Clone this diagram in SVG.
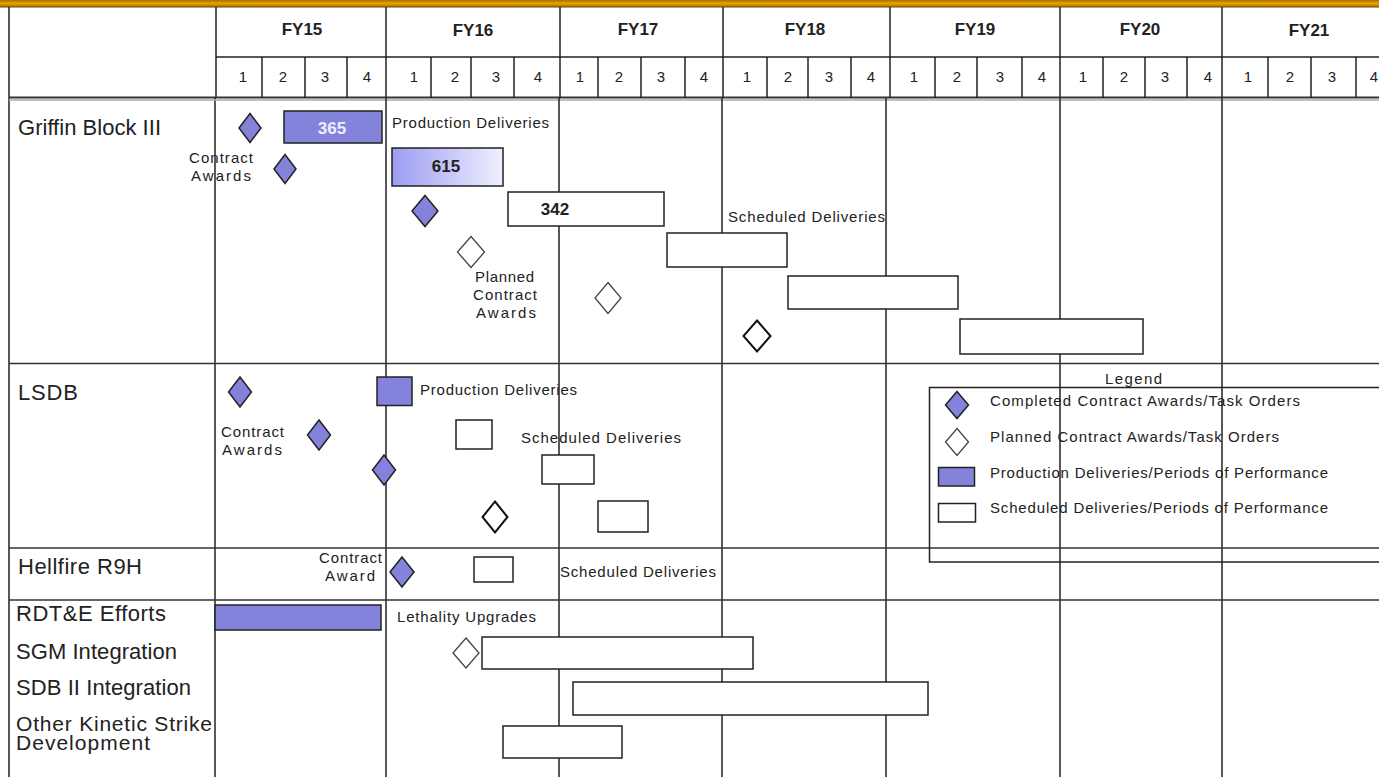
<svg xmlns="http://www.w3.org/2000/svg" width="1379" height="777" viewBox="0 0 1379 777">
<style>
text{font-family:"Liberation Sans",Arial,sans-serif;fill:#222}
.yr{font-size:17px;font-weight:bold;text-anchor:middle}
.q{font-size:15px;text-anchor:middle}
.lbl{font-size:22px}
.sm{font-size:15px}
.num{font-size:17px;font-weight:bold;text-anchor:middle}
.grid{stroke:#222;stroke-width:1.5;fill:none}
.hgrid{stroke:#333;stroke-width:1.6;fill:none}
.fill{fill:#8383dc;stroke:#222;stroke-width:1.5}
.open{fill:#fff;stroke:#222;stroke-width:1.5}
.openD{fill:#fff;stroke:#444;stroke-width:1.3}
.openDk{fill:#fff;stroke:#111;stroke-width:2}
</style>
<defs>
<linearGradient id="bar" x1="0" y1="0" x2="0" y2="1">
<stop offset="0" stop-color="#a87000"/>
<stop offset="0.45" stop-color="#eaa200"/>
<stop offset="0.75" stop-color="#c08400"/>
<stop offset="1" stop-color="#604000"/>
</linearGradient>
<linearGradient id="g615" x1="0" y1="0" x2="1" y2="0">
<stop offset="0" stop-color="#9c9cf2"/>
<stop offset="1" stop-color="#f0f0ff"/>
</linearGradient>
</defs>
<rect x="0" y="0" width="1379" height="777" fill="#fff"/>
<rect x="0" y="0" width="1379" height="7.5" fill="url(#bar)"/>

<g id="grid">
<line class="grid" x1="9" y1="7" x2="9" y2="777" stroke-width="2"/>
<line class="grid" x1="216" y1="7" x2="216" y2="98"/>
<line class="grid" x1="215" y1="98" x2="215" y2="777"/>
<line class="grid" x1="216" y1="57" x2="1379" y2="57"/>
<line x1="9" y1="97.5" x2="1379" y2="97.5" stroke="#333" stroke-width="2"/>
<line x1="9" y1="100" x2="1379" y2="100" stroke="#aaa" stroke-width="1.5"/>
<line class="grid" x1="386" y1="7" x2="386" y2="98"/>
<line class="grid" x1="560" y1="7" x2="560" y2="98"/>
<line class="grid" x1="723" y1="7" x2="723" y2="98"/>
<line class="grid" x1="890" y1="7" x2="890" y2="98"/>
<line class="grid" x1="1060" y1="7" x2="1060" y2="98"/>
<line class="grid" x1="1222" y1="7" x2="1222" y2="98"/>
<line class="grid" x1="386" y1="98" x2="386" y2="777"/>
<line class="grid" x1="559" y1="98" x2="559" y2="777"/>
<line class="grid" x1="722" y1="98" x2="722" y2="777"/>
<line class="grid" x1="886" y1="98" x2="886" y2="777"/>
<line class="grid" x1="1060" y1="98" x2="1060" y2="777"/>
<line class="grid" x1="1222" y1="98" x2="1222" y2="777"/>
<g class="grid" stroke-width="1.2">
<line x1="262" y1="57" x2="262" y2="98"/><line x1="305" y1="57" x2="305" y2="98"/><line x1="347" y1="57" x2="347" y2="98"/>
<line x1="431" y1="57" x2="431" y2="98"/><line x1="471" y1="57" x2="471" y2="98"/><line x1="514" y1="57" x2="514" y2="98"/>
<line x1="598" y1="57" x2="598" y2="98"/><line x1="641" y1="57" x2="641" y2="98"/><line x1="685" y1="57" x2="685" y2="98"/>
<line x1="767" y1="57" x2="767" y2="98"/><line x1="808" y1="57" x2="808" y2="98"/><line x1="851" y1="57" x2="851" y2="98"/>
<line x1="935" y1="57" x2="935" y2="98"/><line x1="977" y1="57" x2="977" y2="98"/><line x1="1022" y1="57" x2="1022" y2="98"/>
<line x1="1103" y1="57" x2="1103" y2="98"/><line x1="1145" y1="57" x2="1145" y2="98"/><line x1="1187" y1="57" x2="1187" y2="98"/>
<line x1="1268" y1="57" x2="1268" y2="98"/><line x1="1311" y1="57" x2="1311" y2="98"/><line x1="1356" y1="57" x2="1356" y2="98"/>
</g>
<line class="hgrid" x1="9" y1="363.5" x2="1379" y2="363.5"/>
<line class="hgrid" x1="9" y1="548" x2="1379" y2="548"/>
<line class="hgrid" x1="9" y1="600" x2="1379" y2="600"/>
</g>

<g id="header">
<text class="yr" x="302" y="35">FY15</text>
<text class="yr" x="473" y="36">FY16</text>
<text class="yr" x="638" y="35">FY17</text>
<text class="yr" x="805" y="35">FY18</text>
<text class="yr" x="975" y="35">FY19</text>
<text class="yr" x="1140" y="35">FY20</text>
<text class="yr" x="1309" y="36">FY21</text>
<text class="q" x="243" y="82">1</text><text class="q" x="283" y="82">2</text><text class="q" x="325" y="82">3</text><text class="q" x="367" y="82">4</text>
<text class="q" x="414" y="82">1</text><text class="q" x="455" y="82">2</text><text class="q" x="496" y="82">3</text><text class="q" x="538" y="82">4</text>
<text class="q" x="580" y="82">1</text><text class="q" x="619" y="82">2</text><text class="q" x="661" y="82">3</text><text class="q" x="704" y="82">4</text>
<text class="q" x="747" y="82">1</text><text class="q" x="788" y="82">2</text><text class="q" x="829" y="82">3</text><text class="q" x="871" y="82">4</text>
<text class="q" x="914" y="82">1</text><text class="q" x="957" y="82">2</text><text class="q" x="1000" y="82">3</text><text class="q" x="1042" y="82">4</text>
<text class="q" x="1083" y="82">1</text><text class="q" x="1124" y="82">2</text><text class="q" x="1165" y="82">3</text><text class="q" x="1208" y="82">4</text>
<text class="q" x="1248" y="82">1</text><text class="q" x="1290" y="82">2</text><text class="q" x="1332" y="82">3</text><text class="q" x="1374" y="82">4</text>
</g>

<g id="row-labels">
<text class="lbl" x="18" y="135" textLength="143" lengthAdjust="spacing">Griffin Block III</text>
<text class="lbl" x="18" y="400" textLength="60" lengthAdjust="spacing">LSDB</text>
<text class="lbl" x="18" y="574" textLength="124" lengthAdjust="spacing">Hellfire  R9H</text>
<text class="lbl" x="16" y="621" textLength="150" lengthAdjust="spacing">RDT&amp;E Efforts</text>
<text class="lbl" x="16" y="659" textLength="161" lengthAdjust="spacing">SGM Integration</text>
<text class="lbl" x="16" y="695" textLength="175" lengthAdjust="spacing">SDB II Integration</text>
<text class="lbl" x="16" y="731" textLength="196" lengthAdjust="spacing" style="font-size:21px">Other Kinetic  Strike</text>
<text class="lbl" x="16" y="750" textLength="134" lengthAdjust="spacing" style="font-size:21px">Development</text>
</g>

<g id="griffin">
<polygon class="fill" points="250,113.5 261,128 250,142.5 239,128"/>
<rect class="fill" x="284" y="111" width="98" height="32"/>
<text class="num" x="332" y="134" style="fill:#eeeeff">365</text>
<text class="sm" x="392" y="128" textLength="157" lengthAdjust="spacing">Production Deliveries</text>
<text class="sm" x="189" y="163" textLength="64" lengthAdjust="spacing">Contract</text>
<text class="sm" x="191" y="181" textLength="60" lengthAdjust="spacing">Awards</text>
<polygon class="fill" points="285,154.5 296,169 285,183.5 274,169"/>
<rect x="392" y="148" width="111" height="38" fill="url(#g615)" stroke="#222" stroke-width="1.5"/>
<text class="num" x="446" y="172">615</text>
<polygon class="fill" points="425,195.5 438,211 425,226.5 412,211"/>
<rect class="open" x="508" y="192" width="156" height="34"/>
<text class="num" x="555" y="215">342</text>
<polygon class="openD" points="471,236.5 484.5,252 471,267.5 457.5,252"/>
<text class="sm" x="475" y="282" textLength="59" lengthAdjust="spacing">Planned</text>
<text class="sm" x="473" y="300" textLength="64" lengthAdjust="spacing">Contract</text>
<text class="sm" x="476" y="318" textLength="60" lengthAdjust="spacing">Awards</text>
<rect class="open" x="667" y="233" width="120" height="34"/>
<text class="sm" x="728" y="222" textLength="157" lengthAdjust="spacing">Scheduled Deliveries</text>
<polygon class="openD" points="608,282.5 621,298 608,313.5 595,298"/>
<rect class="open" x="788" y="276" width="170" height="33"/>
<polygon class="openDk" points="757,320.5 770.5,336 757,351.5 743.5,336"/>
<rect class="open" x="960" y="319" width="183" height="35"/>
</g>

<g id="lsdb">
<polygon class="fill" points="240,377 251.5,392 240,407 228.5,392"/>
<rect class="fill" x="377" y="377" width="35" height="28.5"/>
<text class="sm" x="420" y="395" textLength="157" lengthAdjust="spacing">Production Deliveries</text>
<text class="sm" x="221" y="437" textLength="63" lengthAdjust="spacing">Contract</text>
<text class="sm" x="222" y="455" textLength="60" lengthAdjust="spacing">Awards</text>
<polygon class="fill" points="319,420 330.5,435 319,450 307.5,435"/>
<polygon class="fill" points="384,455 395.5,470 384,485 372.5,470"/>
<rect class="open" x="456" y="420" width="36" height="29"/>
<text class="sm" x="521" y="443" textLength="160" lengthAdjust="spacing">Scheduled  Deliveries</text>
<rect class="open" x="542" y="455" width="52" height="29"/>
<polygon class="openDk" points="495,501.5 507.5,517 495,532.5 482.5,517"/>
<rect class="open" x="598" y="501" width="50" height="31"/>
</g>

<g id="hellfire">
<text class="sm" x="319" y="563" textLength="63" lengthAdjust="spacing">Contract</text>
<text class="sm" x="325" y="581" textLength="50" lengthAdjust="spacing">Award</text>
<polygon class="fill" points="402,557 414,572 402,587 390,572" stroke-width="2"/>
<rect class="open" x="474" y="557" width="39" height="25"/>
<text class="sm" x="560" y="577" textLength="156" lengthAdjust="spacing">Scheduled Deliveries</text>
</g>

<g id="rdte">
<rect class="fill" x="215" y="605" width="166" height="25"/>
<text class="sm" x="397" y="622" textLength="139" lengthAdjust="spacing">Lethality Upgrades</text>
<polygon class="openD" points="466,638 479,653 466,668 453,653"/>
<rect class="open" x="482" y="637" width="271" height="32"/>
<rect class="open" x="573" y="682" width="355" height="33"/>
<rect class="open" x="503" y="726" width="119" height="32"/>
</g>

<g id="legend">
<text class="sm" x="1105" y="384" textLength="57" lengthAdjust="spacing">Legend</text>
<rect x="929.5" y="387.5" width="460" height="174.5" fill="none" stroke="#222" stroke-width="1.5"/>
<polygon class="fill" points="957,391.5 968.5,405 957,418.5 945.5,405" stroke-width="1.2"/>
<text class="sm" x="990" y="406" textLength="310" lengthAdjust="spacing">Completed  Contract Awards/Task Orders</text>
<polygon class="openD" points="957,428.5 968.5,442 957,455.5 945.5,442"/>
<text class="sm" x="990" y="442" textLength="289" lengthAdjust="spacing">Planned  Contract Awards/Task Orders</text>
<rect class="fill" x="938.5" y="467.5" width="36" height="18.5"/>
<text class="sm" x="990" y="478" textLength="338" lengthAdjust="spacing">Production Deliveries/Periods of Performance</text>
<rect class="open" x="938.5" y="503.5" width="37" height="18.5" fill="none"/>
<text class="sm" x="990" y="513" textLength="338" lengthAdjust="spacing">Scheduled Deliveries/Periods of Performance</text>
</g>
</svg>
